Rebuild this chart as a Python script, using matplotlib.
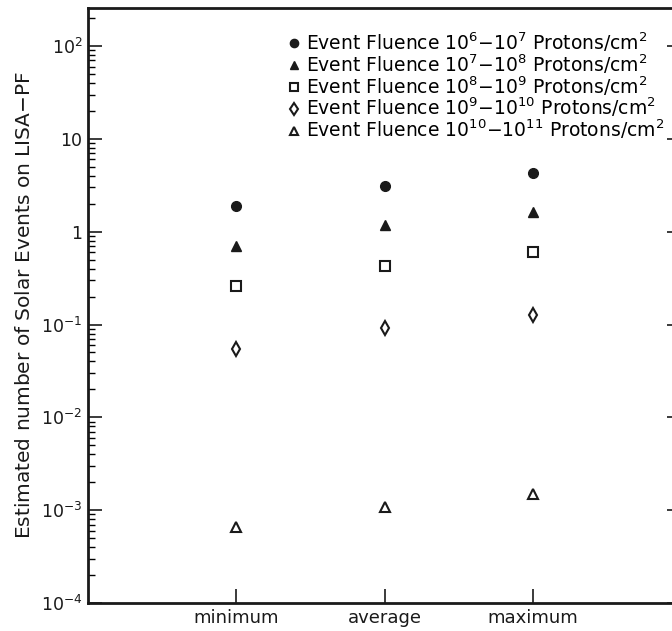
import math
import matplotlib
matplotlib.use("Agg")
import matplotlib.pyplot as plt
from matplotlib.ticker import LogLocator, FixedLocator, NullFormatter, FuncFormatter

# Solar-cycle phase on the x axis
phases = ["minimum", "average", "maximum"]

# Estimated number of events per fluence range, for each phase
fluence_1e6_1e7 = [1.87, 3.07, 4.34]
fluence_1e7_1e8 = [0.71, 1.19, 1.64]
fluence_1e8_1e9 = [0.26, 0.43, 0.60]
fluence_1e9_1e10 = [0.055, 0.091, 0.128]
fluence_1e10_1e11 = [6.6e-4, 1.08e-3, 1.51e-3]

series_labels = [
    r"Event Fluence 10$^{6}$$-$10$^{7}$ Protons/cm$^{2}$",
    r"Event Fluence 10$^{7}$$-$10$^{8}$ Protons/cm$^{2}$",
    r"Event Fluence 10$^{8}$$-$10$^{9}$ Protons/cm$^{2}$",
    r"Event Fluence 10$^{9}$$-$10$^{10}$ Protons/cm$^{2}$",
    r"Event Fluence 10$^{10}$$-$10$^{11}$ Protons/cm$^{2}$",
]

plt.rcParams["font.family"] = ["DejaVu Sans"]
plt.rcParams["mathtext.fontset"] = "dejavusans"

fig = plt.figure(figsize=(6.72, 6.31), dpi=100)
ax = fig.add_axes([88 / 672, 28 / 631, (681 - 88) / 672, (603 - 8) / 631])

x = [1, 2, 3]
ink = "#1a1a1a"
styles = [
    dict(marker="o", ms=7, mfc=ink, mec=ink, mew=1.0),
    dict(marker="^", ms=7, mfc=ink, mec=ink, mew=1.0),
    dict(marker="s", ms=7, mfc="white", mec=ink, mew=1.5),
    dict(marker="d", ms=7, mfc="white", mec=ink, mew=1.5),
    dict(marker="^", ms=7.5, mfc="white", mec=ink, mew=1.5),
]
series = [fluence_1e6_1e7, fluence_1e7_1e8, fluence_1e8_1e9,
          fluence_1e9_1e10, fluence_1e10_1e11]
for vals, st, lab in zip(series, styles, series_labels):
    ax.plot(x, vals, linestyle="none", label=lab, **st)

ax.set_yscale("log")
ax.set_ylim(1e-4, 10 ** 2.41)
ax.set_xlim(0, 4)

ax.xaxis.set_major_locator(FixedLocator(x))
ax.set_xticklabels(phases)

ax.yaxis.set_major_locator(LogLocator(base=10, numticks=10))
ax.yaxis.set_minor_locator(LogLocator(base=10, subs=range(2, 10), numticks=20))
ax.yaxis.set_minor_formatter(NullFormatter())


def decade_label(v, pos):
    e = int(round(math.log10(v)))
    if e == 0:
        return "1"
    if e == 1:
        return "10"
    return r"10$^{%d}$" % e


ax.yaxis.set_major_formatter(FuncFormatter(decade_label))
ax.tick_params(axis="y", which="major", direction="in", length=10, width=1.2,
               labelsize=12.5, right=True, pad=4, colors=ink)
ax.tick_params(axis="y", which="minor", direction="in", length=5, width=1.0,
               right=True)
ax.tick_params(axis="x", which="major", direction="in", length=10, width=1.2,
               labelsize=13, top=False, pad=4, colors=ink)

for sp in ax.spines.values():
    sp.set_linewidth(2.0)
    sp.set_color(ink)

ax.set_ylabel("Estimated number of Solar Events on LISA$-$PF", fontsize=14.5,
              labelpad=5, color=ink)

leg = ax.legend(loc="upper right", bbox_to_anchor=(0.99, 0.981), frameon=False,
                fontsize=13.5, handlelength=0.5, handletextpad=0.35,
                labelspacing=-0.09, borderaxespad=0.2, markerscale=0.85)

fig.savefig("out.png", dpi=100)
